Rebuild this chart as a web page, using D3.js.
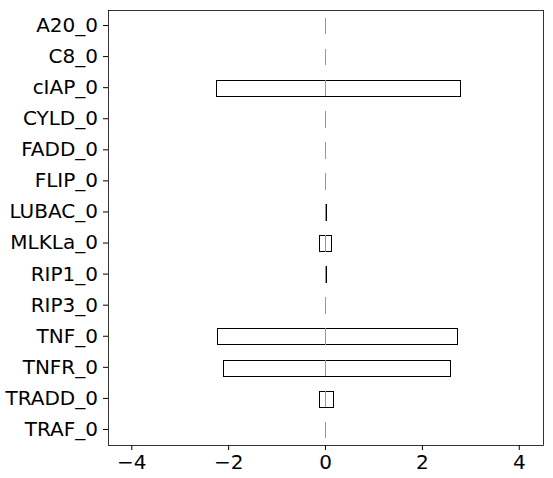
<!DOCTYPE html>
<html><head><meta charset="utf-8">
<script src="https://cdn.jsdelivr.net/npm/d3@7"></script>
<style>body{margin:0;background:#fff}text{font-family:"DejaVu Sans",sans-serif}</style>
</head><body><svg id="c" width="553" height="478"></svg>
<script>
const categories = ['A20_0','C8_0','cIAP_0','CYLD_0','FADD_0','FLIP_0','LUBAC_0','MLKLa_0','RIP1_0','RIP3_0','TNF_0','TNFR_0','TRADD_0','TRAF_0'];
const q1     = [0, 0, -2.26, 0, 0, 0, 0.00, -0.12, 0.00, 0, -2.22, -2.10, -0.13, 0];
const median = [0, 0,  0.00, 0, 0, 0, 0.00,  0.00, 0.00, 0,  0.00,  0.00,  0.00, 0];
const q3     = [0, 0,  2.78, 0, 0, 0, 0.02,  0.13, 0.02, 0,  2.73,  2.58,  0.15, 0];
const xTicks = [-4, -2, 0, 2, 4];

const svg = d3.select('#c');
const m = {l: 108, r: 10, t: 10, b: 33};
const w = 553 - m.l - m.r, h = 478 - m.t - m.b;
const g = svg.append('g').attr('transform', `translate(${m.l},${m.t})`);

const x = d3.scaleLinear().domain([-4.48, 4.5]).range([0, w]);
const y = d3.scaleBand().domain(categories).range([0, h]).paddingInner(0.5).paddingOuter(0.25);

const rows = categories.map((c, i) => ({c, a: q1[i], m: median[i], b: q3[i]}));

g.selectAll('rect.box').data(rows.filter(d => d.b > d.a)).enter().append('rect')
  .attr('x', d => Math.round(x(d.a)) + 0.5).attr('width', d => Math.round(x(d.b) - x(d.a)))
  .attr('y', d => Math.round(y(d.c)) + 0.5).attr('height', Math.round(y.bandwidth()))
  .attr('fill', 'none').attr('stroke', '#000').attr('stroke-width', 1);

g.selectAll('line.med').data(rows).enter().append('line')
  .attr('x1', d => Math.round(x(d.m)) + 0.5).attr('x2', d => Math.round(x(d.m)) + 0.5)
  .attr('y1', d => Math.round(y(d.c))).attr('y2', d => Math.round(y(d.c) + y.bandwidth()) + 1)
  .attr('stroke', '#ff7f0e').attr('stroke-width', 1);

g.append('rect').attr('x', 0.5).attr('y', 0.5).attr('width', w).attr('height', h)
  .attr('fill', 'none').attr('stroke', '#000').attr('stroke-width', 0.8);

const fmt = d => d < 0 ? '\u2212' + Math.abs(d) : String(d);
const xa = g.append('g').attr('transform', `translate(0,${h})`)
  .call(d3.axisBottom(x).tickValues(xTicks).tickFormat(fmt).tickSize(5).tickPadding(5));
const ya = g.append('g')
  .call(d3.axisLeft(y).tickSize(5).tickPadding(5));
[xa, ya].forEach(a => {
  a.select('.domain').remove();
  a.selectAll('text').attr('font-size', 20).attr('fill', '#000').attr('font-family', 'DejaVu Sans');
  a.selectAll('line').attr('stroke', '#000');
});
</script></body></html>
